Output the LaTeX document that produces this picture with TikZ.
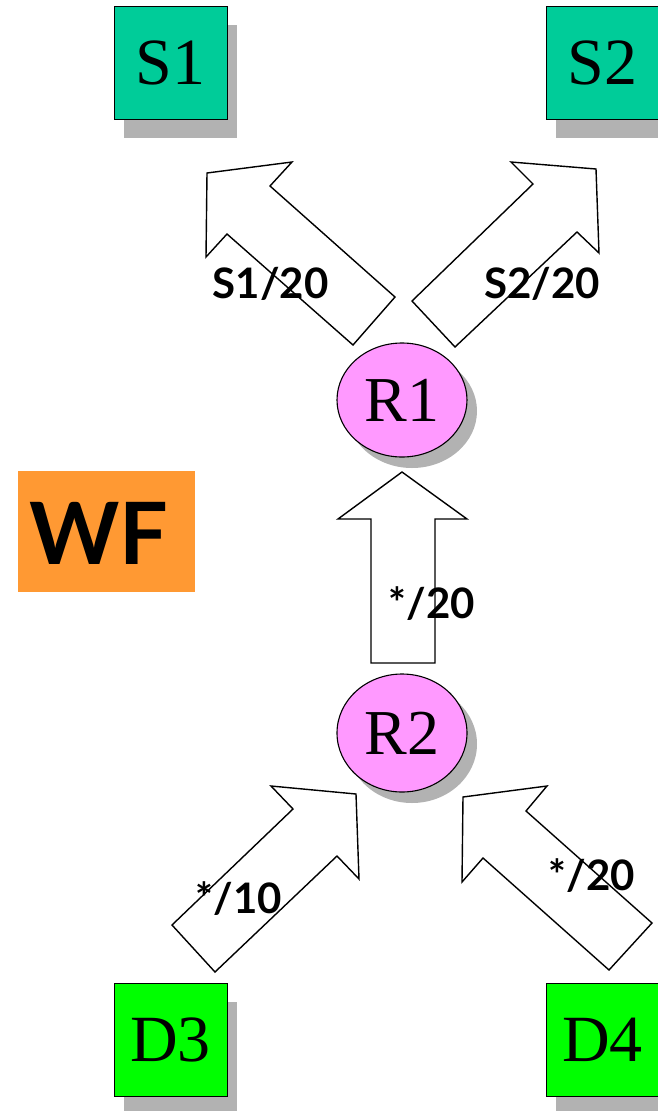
\documentclass[tikz,border=0pt]{standalone}
\usepackage{fontspec}
\setmainfont{Liberation Serif}
\newfontfamily\labfont{Lato}
\usetikzlibrary{shadows,shapes.geometric}
\definecolor{steal}{HTML}{00CC99}
\definecolor{dgreen}{HTML}{00FF00}
\definecolor{rpink}{HTML}{FF99FF}
\definecolor{wforange}{HTML}{FF9933}
\definecolor{shadowgray}{HTML}{B2B2B2}
\tikzset{
  sqbox/.style={draw=black, line width=1pt, minimum width=113pt, minimum height=113pt,
    inner sep=0pt, font=\fontsize{66}{66}\selectfont,
    general shadow={fill=shadowgray, shadow xshift=10pt, shadow yshift=-19pt}},
  router/.style={ellipse, draw=black, line width=1.1pt, fill=rpink, minimum width=130pt,
    inner sep=0pt, font=\fontsize{64}{64}\selectfont,
    general shadow={fill=shadowgray, shadow xshift=10pt, shadow yshift=-11pt}},
  blockarrow/.style={draw=black, fill=white, line width=1.4pt, line join=miter},
  flowlabel/.style={font=\labfont\bfseries\fontsize{42}{42}\selectfont, inner sep=0pt, anchor=base}
}
\begin{document}
\begin{tikzpicture}[x=1pt, y=-1pt]
\useasboundingbox (0,0) rectangle (658,1111);

% nodes
\node[sqbox, fill=steal] (S1) at (170.5,62.5) {S1};
\node[sqbox, fill=steal] (S2) at (602.5,62.5) {S2};
\node[sqbox, fill=dgreen] (D3) at (170.5,1039.5) {D3};
\node[sqbox, fill=dgreen] (D4) at (602.5,1039.5) {D4};
\node[router, minimum height=114pt] (R1) at (402,400) {R1};
\node[router, minimum height=118pt] (R2) at (402,733) {R2};

% WF box
\node[fill=wforange, minimum width=177pt, minimum height=121pt, inner sep=0pt] (WFbox) at (106.5,531.5) {};
\node[font=\labfont\bfseries\fontsize{86}{86}\selectfont, inner sep=0pt, anchor=base] (WF) at (99,564) {WF};

% block arrows
\draw[blockarrow] (207,173) -- (292,162) -- (270,186) -- (395,297) -- (353,345) -- (227,234) -- (206,257) -- cycle;
\draw[blockarrow] (511,162) -- (596,169) -- (599,253) -- (577,232) -- (455,347) -- (412,301) -- (533,184) -- cycle;
\draw[blockarrow] (402,472) -- (467,519) -- (435,519) -- (435,663) -- (371,663) -- (371,519) -- (338,519) -- cycle;
\draw[blockarrow] (271,786) -- (356,794) -- (359,879) -- (337,856) -- (215,972) -- (172,925) -- (293,809) -- cycle;
\draw[blockarrow] (463,797) -- (547,786) -- (526,811) -- (652,923) -- (609,970) -- (483,858) -- (462,882) -- cycle;

% labels
\node[flowlabel] (L1) at (270.5,298) {S1/20};
\node[flowlabel] (L2) at (542,298) {S2/20};
\node[flowlabel] (L3) at (432,618) {*/20};
\node[flowlabel] (L4) at (239,913) {*/10};
\node[flowlabel] (L5) at (592,890) {*/20};
\end{tikzpicture}
\end{document}
